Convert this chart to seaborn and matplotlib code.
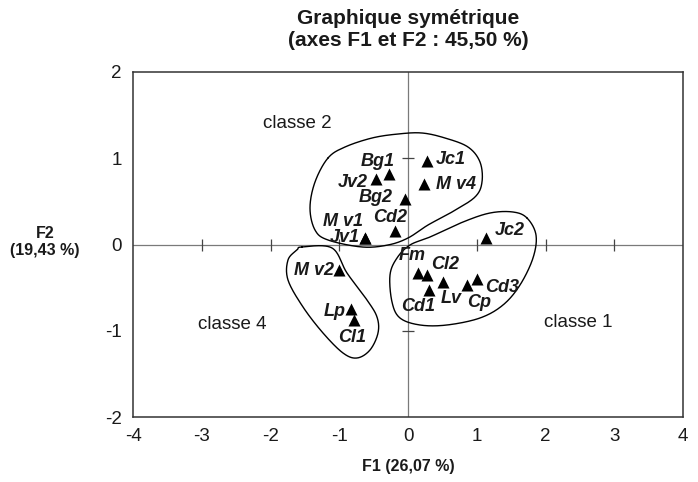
import numpy as np
import pandas as pd
import matplotlib
matplotlib.use("Agg")
import matplotlib.pyplot as plt
import seaborn as sns

# Individuals projected on the first two factorial axes
labels = ["Jc1", "M v4", "Bg1", "Jv2", "Bg2", "Cd2", "M v1", "Jv1",
          "Jc2", "Fm", "Cl2", "Lv", "Cd1", "Cp", "Cd3",
          "M v2", "Lp", "Cl1"]
f1 = [0.28, 0.23, -0.28, -0.46, -0.05, -0.19, -0.62, -0.62,
      1.13, 0.14, 0.27, 0.51, 0.31, 0.86, 1.00,
      -1.01, -0.83, -0.79]
f2 = [0.97, 0.70, 0.82, 0.76, 0.53, 0.16, 0.08, 0.08,
      0.07, -0.33, -0.35, -0.44, -0.53, -0.47, -0.40,
      -0.30, -0.75, -0.88]

# Label placement around each triangle: (dx, dy) in pixels and alignment
label_pos = {
    "Jc1": (9, 1, "left"), "M v4": (12, 0, "left"), "Bg1": (6, 12, "right"),
    "Jv2": (-9, -4, "right"), "Bg2": (-12, 1, "right"), "Cd2": (-5, 13, "center"),
    "M v1": (-2, 16, "right"), "Jv1": (-6, 0, "right"), "Jc2": (9, 8, "left"),
    "Fm": (-5, 17, "center"), "Cl2": (5, 10, "left"), "Lv": (8, -16, "center"),
    "Cd1": (-11, -16, "center"), "Cp": (12, -17, "center"), "Cd3": (8, -8, "left"),
    "M v2": (-5, 0, "right"), "Lp": (-5, -2, "right"), "Cl1": (-2, -17, "center"),
}

# Class names and their positions
class_names = ["classe 2", "classe 4", "classe 1"]
class_x = [-1.61, -2.55, 2.47]
class_y = [1.40, -0.93, -0.90]

# Outline vertices of the hand-drawn class enclosures (pixel frame of the figure)
outline_classe2 = [(328, 158), (315, 182), (310, 208), (315, 230), (328, 240),
                   (362, 247), (388, 245), (408, 238), (428, 225), (452, 212),
                   (475, 197), (482, 182), (480, 162), (468, 147), (445, 138),
                   (422, 133), (398, 134), (372, 138), (345, 147)]
outline_classe1 = [(527, 218), (536, 235), (533, 258), (520, 285), (503, 305),
                   (480, 318), (447, 325), (420, 325), (400, 318), (392, 302),
                   (390, 275), (397, 258), (410, 245), (430, 237), (463, 222),
                   (490, 213), (513, 212)]
outline_classe4 = [(302, 247), (332, 248), (347, 273), (367, 300), (377, 317),
                   (378, 333), (370, 350), (357, 358), (343, 353), (323, 333),
                   (303, 307), (288, 280), (288, 260), (297, 250)]

x_ticks = [-4, -3, -2, -1, 0, 1, 2, 3, 4]
y_ticks = [-2, -1, 0, 1, 2]

title = "Graphique symétrique\n(axes F1 et F2 : 45,50 %)"
xlabel = "F1 (26,07 %)"
ylabel = "F2\n(19,43 %)"

sns.set_style("white")
plt.rcParams["font.family"] = ["Liberation Sans", "DejaVu Sans"]

W, H = 698, 482
fig = plt.figure(figsize=(W / 100, H / 100), dpi=100)
ax_l, ax_r, ax_t, ax_b = 133, 683, 72, 417
ax = fig.add_axes([ax_l / W, 1 - ax_b / H, (ax_r - ax_l) / W, (ax_b - ax_t) / H])
ax.set_xlim(-4, 4)
ax.set_ylim(-2, 2)


def px_to_data(pts):
    pts = np.asarray(pts, float)
    x = -4 + (pts[:, 0] - ax_l) / (ax_r - ax_l) * 8
    y = 2 - (pts[:, 1] - ax_t) / (ax_b - ax_t) * 4
    return np.column_stack([x, y])


def closed_spline(pts, n=30):
    """Closed Catmull-Rom curve through the given vertices."""
    p = np.asarray(pts, float)
    m = len(p)
    out = []
    for i in range(m):
        p0, p1, p2, p3 = p[(i - 1) % m], p[i], p[(i + 1) % m], p[(i + 2) % m]
        t = np.linspace(0, 1, n, endpoint=False)[:, None]
        out.append(0.5 * ((2 * p1) + (-p0 + p2) * t
                          + (2 * p0 - 5 * p1 + 4 * p2 - p3) * t ** 2
                          + (-p0 + 3 * p1 - 3 * p2 + p3) * t ** 3))
    out = np.vstack(out)
    return np.vstack([out, out[:1]])


# Central axes with small cross ticks
ax.axhline(0, color="#7a7a7a", lw=0.9, zorder=1)
ax.axvline(0, color="#7a7a7a", lw=0.9, zorder=1)
hx = [t for t in x_ticks if t not in (-4, 0, 4)]
vy = [t for t in y_ticks if t not in (-2, 0, 2)]
ax.plot(hx, [0] * len(hx), ls="none", marker="|", ms=8, mew=0.9, color="#444444", zorder=1)
ax.plot([0] * len(vy), vy, ls="none", marker="_", ms=8, mew=0.9, color="#444444", zorder=1)

# Class enclosures
for outline in (outline_classe2, outline_classe1, outline_classe4):
    curve = closed_spline(px_to_data(outline))
    ax.plot(curve[:, 0], curve[:, 1], color="black", lw=1.0, zorder=2)

df = pd.DataFrame({"F1": f1, "F2": f2, "label": labels})
sns.scatterplot(data=df, x="F1", y="F2", marker="^", s=75, color="black",
                edgecolor="black", linewidth=0, ax=ax, zorder=3)

for name, x, y in zip(labels, f1, f2):
    dx, dy, ha = label_pos[name]
    ax.annotate(name, (x, y), xytext=(dx, dy), textcoords="offset pixels",
                ha=ha, va="center", fontsize=13, fontweight="bold",
                fontstyle="italic", color="#1a1a1a", zorder=4)

for name, x, y in zip(class_names, class_x, class_y):
    ax.text(x, y, name, ha="center", va="center", fontsize=13.5, color="#1a1a1a")

ax.set_xticks(x_ticks)
ax.set_yticks(y_ticks)
ax.set_xticklabels([str(t) for t in x_ticks])
ax.set_yticklabels([str(t) for t in y_ticks])
ax.tick_params(axis="x", length=0, pad=8, labelsize=13.5, labelcolor="#1a1a1a")
ax.tick_params(axis="y", length=0, pad=8, labelsize=13.5, labelcolor="#1a1a1a")
for sp in ax.spines.values():
    sp.set_color("#333333")
    sp.set_linewidth(1.1)
ax.set_xlabel("")
ax.set_ylabel("")

fig.text(408 / W, 1 - 29.5 / H, title, ha="center", va="center",
         fontsize=15, fontweight="bold", color="#1a1a1a", linespacing=1.2)
fig.text(408 / W, 1 - 466 / H, xlabel, ha="center", va="center",
         fontsize=11.5, fontweight="bold", color="#1a1a1a")
fig.text(45 / W, 1 - 242 / H, ylabel, ha="center", va="center",
         fontsize=11.5, fontweight="bold", color="#1a1a1a", linespacing=1.15)

fig.savefig("out.png", dpi=100, facecolor="white")
